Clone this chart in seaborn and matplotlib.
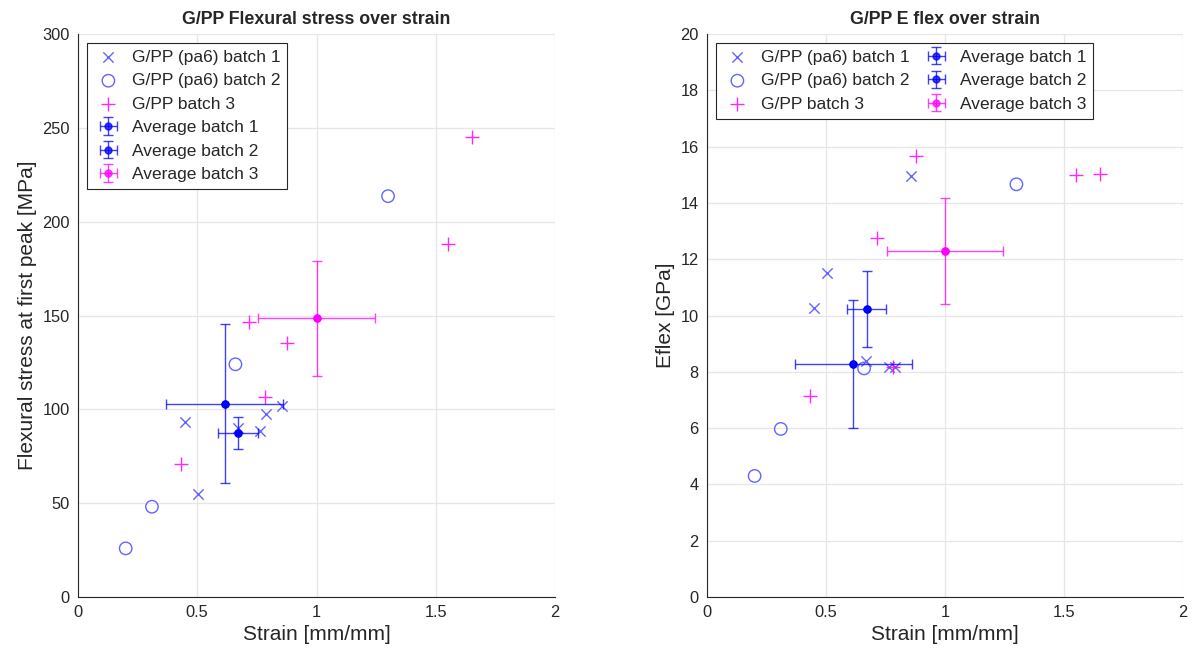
import matplotlib
matplotlib.use("Agg")
import matplotlib.pyplot as plt
import seaborn as sns
import pandas as pd

# ---- data ----
strain_b1 = [0.45, 0.505, 0.67, 0.765, 0.79, 0.857]
stress_b1 = [93.4, 54.9, 89.9, 88.4, 97.3, 101.8]
eflex_b1 = [10.26, 11.52, 8.38, 8.18, 8.18, 14.96]

strain_b2 = [0.20, 0.31, 0.66, 1.30]
stress_b2 = [25.9, 48.1, 124.0, 213.6]
eflex_b2 = [4.30, 5.97, 8.12, 14.66]

strain_b3 = [0.432, 0.715, 0.878, 0.783, 1.653, 1.55]
stress_b3 = [70.7, 146.3, 135.2, 106.4, 244.9, 187.9]
eflex_b3 = [7.14, 12.76, 15.68, 8.16, 15.03, 15.0]

avg_strain = [0.671, 0.615, 1.0]
avg_strain_err = [0.082, 0.245, 0.245]
avg_stress = [87.4, 103.0, 148.6]
avg_stress_err = [8.3, 42.3, 30.6]
avg_eflex = [10.23, 8.27, 12.30]
avg_eflex_err = [1.34, 2.27, 1.88]

scatter_labels = ["G/PP (pa6) batch 1", "G/PP (pa6) batch 2", "G/PP batch 3"]
avg_labels = ["Average batch 1", "Average batch 2", "Average batch 3"]
x_ticks = [0, 0.5, 1, 1.5, 2]
x_tick_labels = ["0", "0.5", "1", "1.5", "2"]

sns.set_style("white")
plt.rcParams["font.family"] = ["Liberation Sans", "DejaVu Sans"]

light_blue = "#6464ff"
magenta = "#ff00ff"
avg_colors = ["#0000ff", "#0000ff", "#ff00ff"]

fig = plt.figure(figsize=(11.97, 6.59), dpi=100)
ax1 = fig.add_axes([78 / 1197, 1 - 597 / 659, (555 - 78) / 1197, (597 - 34) / 659])
ax2 = fig.add_axes([707 / 1197, 1 - 597 / 659, (1183 - 707) / 1197, (597 - 34) / 659])


def draw(ax, yb1, yb2, yb3, yavg, yerr):
    d1 = pd.DataFrame({"x": strain_b1, "y": yb1})
    d2 = pd.DataFrame({"x": strain_b2, "y": yb2})
    d3 = pd.DataFrame({"x": strain_b3, "y": yb3})
    sns.scatterplot(data=d1, x="x", y="y", ax=ax, marker="x", s=55, color=light_blue,
                    linewidth=1.0, label=scatter_labels[0], zorder=3)
    sns.scatterplot(data=d2, x="x", y="y", ax=ax, marker="o", s=80, facecolor="none",
                    edgecolor=light_blue, linewidth=1.0, label=scatter_labels[1], zorder=3)
    sns.scatterplot(data=d3, x="x", y="y", ax=ax, marker="+", s=110, color=magenta,
                    linewidth=1.0, alpha=0.85, label=scatter_labels[2], zorder=3)
    for i in range(3):
        ax.errorbar([avg_strain[i]], [yavg[i]], xerr=[avg_strain_err[i]], yerr=[yerr[i]],
                    fmt="o", color=avg_colors[i], ecolor=avg_colors[i], elinewidth=1.0,
                    capsize=3.5, capthick=1.0, markersize=5, alpha=0.75,
                    label=avg_labels[i], zorder=4)
        ax.plot([avg_strain[i]], [yavg[i]], "o", color=avg_colors[i], markersize=5, zorder=5)
    ax.set_xlim(0, 2)
    ax.set_xticks(x_ticks)
    ax.set_xticklabels(x_tick_labels)
    ax.grid(True, color="#e6e6e6", linewidth=0.9)
    ax.set_axisbelow(True)
    for s in ["top", "right"]:
        ax.spines[s].set_visible(False)
    for s in ["left", "bottom"]:
        ax.spines[s].set_color("#262626")
        ax.spines[s].set_linewidth(0.8)
    ax.tick_params(direction="in", length=4, width=0.8, colors="#262626",
                   labelsize=11.8, labelcolor="#262626", pad=6)
    ax.set_xlabel("Strain [mm/mm]", fontsize=15, color="#262626", labelpad=3)


leg_kw = dict(loc="upper left", fontsize=12.5, frameon=True, fancybox=False,
              edgecolor="#262626", framealpha=1, borderaxespad=0.5,
              handletextpad=0.5, handlelength=1.7, labelspacing=0.48, borderpad=0.4)

draw(ax1, stress_b1, stress_b2, stress_b3, avg_stress, avg_stress_err)
ax1.set_ylim(0, 300)
ax1.set_yticks([0, 50, 100, 150, 200, 250, 300])
ax1.set_ylabel("Flexural stress at first peak [MPa]", fontsize=15, color="#262626")
ax1.set_title("G/PP Flexural stress over strain", fontsize=12.8, fontweight="bold", pad=7)
leg1 = ax1.legend(**leg_kw)
leg1.get_frame().set_linewidth(0.8)

draw(ax2, eflex_b1, eflex_b2, eflex_b3, avg_eflex, avg_eflex_err)
ax2.set_ylim(0, 20)
ax2.set_yticks(list(range(0, 21, 2)))
ax2.set_ylabel("Eflex [GPa]", fontsize=15, color="#262626")
ax2.set_title("G/PP E flex over strain", fontsize=12.8, fontweight="bold", pad=7)
leg2 = ax2.legend(ncol=2, columnspacing=0.7, **leg_kw)
leg2.get_frame().set_linewidth(0.8)

fig.savefig("out.png", dpi=100, facecolor="white")
